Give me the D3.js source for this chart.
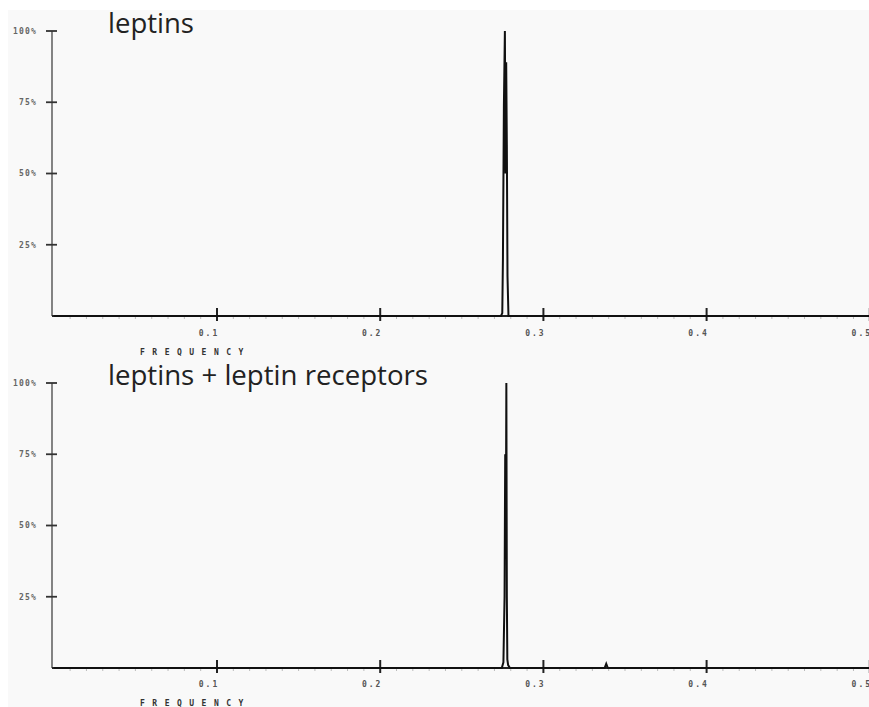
<!DOCTYPE html>
<html>
<head>
<meta charset="utf-8">
<script src="https://cdn.jsdelivr.net/npm/d3@7"></script>
<style>
  html, body { margin: 0; padding: 0; background: #ffffff; }
  svg { display: block; }
</style>
</head>
<body>
<svg id="chart" width="869" height="707"></svg>
<script>
// ---- data ----
const panelTitles = ["leptins", "leptins + leptin receptors"];
const xTickValues = [0.1, 0.2, 0.3, 0.4, 0.5];
const xTickLabels = ["0.1", "0.2", "0.3", "0.4", "0.5"];
const yTickValues = [25, 50, 75, 100];
const yTickLabels = ["25%", "50%", "75%", "100%"];
const xAxisTitle = "FREQUENCY";

// spectrum 1: leptins
const freq1 = [0, 0.2740, 0.2748, 0.2752, 0.2758, 0.2764, 0.2768, 0.2772, 0.2776, 0.2780, 0.2786, 0.2795, 0.55];
const amp1  = [0, 0,      1,      20,     74,     100,    50,     89,     60,     14,     0,      0,      0];

// spectrum 2: leptins + leptin receptors
const freq2 = [0, 0.2745, 0.2755, 0.2762, 0.2766, 0.2770, 0.2773, 0.2776, 0.2779, 0.2784, 0.2795, 0.3375, 0.3385, 0.3395, 0.55];
const amp2  = [0, 0,      2,      25,     75,     50,     100,    25,     3,      1,      0,      0,      1.5,    0,      0];

// ---- drawing ----
const svg = d3.select("#chart");
svg.append("rect").attr("x", 8).attr("y", 10).attr("width", 861).attr("height", 697).attr("fill", "#f9f9f9");

const x = d3.scaleLinear().domain([0, 0.5]).range([53.8, 869.8]);

const panels = [
  { title: panelTitles[0], freq: freq1, amp: amp1, y0: 316, y1: 31, titleY: 33, titleLen: 86, tickLabelY: 336, freqY: 354.5 },
  { title: panelTitles[1], freq: freq2, amp: amp2, y0: 668, y1: 383, titleY: 385, titleLen: 320, tickLabelY: 687, freqY: 706 }
];

panels.forEach(p => {
  const y = d3.scaleLinear().domain([0, 100]).range([p.y0, p.y1]);
  const g = svg.append("g");

  // minor ticks along x axis
  const minor = d3.range(1, 55).filter(i => i % 10 !== 0).map(i => i / 100);
  g.selectAll(".minor").data(minor).join("line")
    .attr("x1", d => x(d)).attr("x2", d => x(d))
    .attr("y1", p.y0).attr("y2", p.y0 + 3)
    .attr("stroke", "#bbb").attr("stroke-width", 1);

  // y axis line
  g.append("line")
    .attr("x1", 52).attr("x2", 52)
    .attr("y1", y(100)).attr("y2", p.y0)
    .attr("stroke", "#666").attr("stroke-width", 1.6);

  // x axis line
  g.append("line")
    .attr("x1", 52).attr("x2", 869)
    .attr("y1", p.y0).attr("y2", p.y0)
    .attr("stroke", "#222").attr("stroke-width", 2);

  // y ticks
  g.selectAll(".yt").data(yTickValues).join("line")
    .attr("x1", 46).attr("x2", 57)
    .attr("y1", d => y(d)).attr("y2", d => y(d))
    .attr("stroke", "#333").attr("stroke-width", 1.8);
  g.selectAll(".yl").data(yTickValues).join("text")
    .attr("x", 37).attr("y", d => y(d))
    .attr("dy", "0.35em")
    .attr("text-anchor", "end")
    .attr("font-family", "DejaVu Sans Mono, monospace")
    .attr("font-size", 8).attr("font-weight", "bold")
    .attr("letter-spacing", 1.2)
    .attr("fill", "#666")
    .text((d, i) => yTickLabels[i]);

  // x ticks
  g.selectAll(".xt").data(xTickValues).join("line")
    .attr("x1", d => x(d)).attr("x2", d => x(d))
    .attr("y1", p.y0 - 8).attr("y2", p.y0 + 5)
    .attr("stroke", "#222").attr("stroke-width", 2);
  g.selectAll(".xl").data(xTickValues).join("text")
    .attr("x", d => x(d) - 8).attr("y", p.tickLabelY)
    .attr("text-anchor", "middle")
    .attr("font-family", "DejaVu Sans Mono, monospace")
    .attr("font-size", 8).attr("font-weight", "bold")
    .attr("letter-spacing", 2)
    .attr("fill", "#555")
    .text((d, i) => xTickLabels[i]);

  // axis title
  g.append("text")
    .attr("x", 140).attr("y", p.freqY)
    .attr("font-family", "DejaVu Sans Mono, monospace")
    .attr("font-size", 8).attr("font-weight", "bold")
    .attr("letter-spacing", 7.5)
    .attr("fill", "#333")
    .text(xAxisTitle);

  // spectrum line
  const data = p.freq.map((f, i) => [f, p.amp[i]]);
  g.append("path")
    .datum(data)
    .attr("d", d3.line().x(d => x(d[0])).y(d => y(d[1])))
    .attr("fill", "none")
    .attr("stroke", "#111")
    .attr("stroke-width", 2)
    .attr("stroke-linejoin", "miter");

  // panel title
  g.append("text")
    .attr("x", 108).attr("y", p.titleY)
    .attr("font-family", "Open Sans, sans-serif")
    .attr("font-size", 28)
    .attr("textLength", p.titleLen)
    .attr("lengthAdjust", "spacingAndGlyphs")
    .attr("fill", "#222")
    .text(p.title);
});
</script>
</body>
</html>
